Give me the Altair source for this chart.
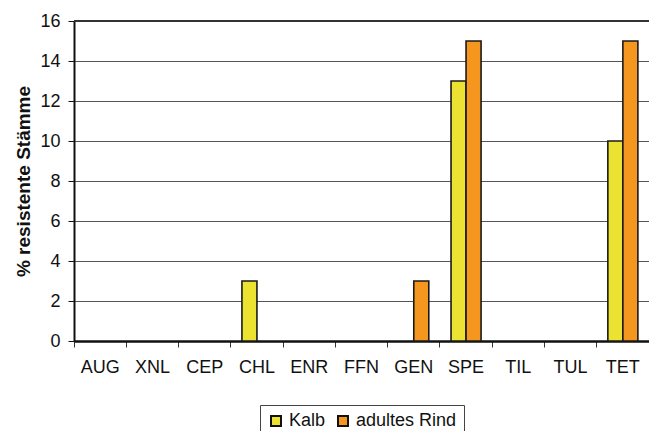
import altair as alt
import pandas as pd

antibiotics = ["AUG", "XNL", "CEP", "CHL", "ENR", "FFN", "GEN", "SPE", "TIL", "TUL", "TET"]
kalb = [0, 0, 0, 3, 0, 0, 0, 13, 0, 0, 10]
adultes_rind = [0, 0, 0, 0, 0, 0, 3, 15, 0, 0, 15]
groups = ["Kalb", "adultes Rind"]
colors = ["#EBE232", "#F5961E"]
y_ticks = [0, 2, 4, 6, 8, 10, 12, 14, 16]

rows = []
for i, ab in enumerate(antibiotics):
    rows.append({"Antibiotikum": ab, "Gruppe": groups[0], "Wert": kalb[i]})
    rows.append({"Antibiotikum": ab, "Gruppe": groups[1], "Wert": adultes_rind[i]})
df = pd.DataFrame(rows)

font = "Liberation Sans"

x_scale = alt.Scale(domain=antibiotics, paddingInner=0, paddingOuter=0)
y_scale = alt.Scale(domain=[0, 16], nice=False)

y_axis = alt.Axis(title="% resistente Stämme", values=y_ticks, labelOverlap=False,
                  titleFontSize=19, titleFont=font, titleFontWeight="bold",
                  titleColor="#111", titlePadding=6,
                  labelFontSize=18, labelFont=font, labelColor="#111",
                  labelPadding=8, tickSize=6, tickColor="#111",
                  domainColor="#111", domainWidth=2,
                  grid=True, gridColor="#555", gridWidth=1)

bars = alt.Chart(df).transform_filter("datum.Wert > 0").mark_bar(
    stroke="#1a1a1a", strokeWidth=1.6
).encode(
    x=alt.X("Antibiotikum:N", scale=x_scale, sort=antibiotics,
            axis=alt.Axis(title=None, orient="bottom", bandPosition=0,
                          tickSize=6, tickColor="#333", tickWidth=1,
                          domainColor="#111", domainWidth=2.5, labelAngle=0,
                          labelFontSize=18, labelColor="#111", labelFont=font,
                          labelPadding=11, labelBaseline="top")),
    xOffset=alt.XOffset("Gruppe:N", sort=groups,
                        scale=alt.Scale(domain=groups, paddingInner=0, paddingOuter=0.74)),
    y=alt.Y("Wert:Q", scale=y_scale, axis=y_axis),
    color=alt.Color("Gruppe:N", sort=groups,
                    scale=alt.Scale(domain=groups, range=colors),
                    legend=alt.Legend(title=None, orient="none", direction="horizontal",
                                      legendX=186, legendY=384,
                                      symbolType="square", symbolSize=100,
                                      symbolStrokeColor="#111", symbolStrokeWidth=2,
                                      labelFontSize=18, labelFont=font, labelColor="#111",
                                      labelOffset=4, columnPadding=8,
                                      strokeColor="#444", padding=7, fillColor="white")),
)

# dark frame line along the top of the plot area
top_line = alt.Chart(pd.DataFrame({"Wert": [16]})).mark_rule(color="#333", strokeWidth=2).encode(
    y=alt.Y("Wert:Q", scale=y_scale, axis=y_axis)
)

chart = alt.layer(bars, top_line).properties(
    width=575, height=320,
    autosize=alt.AutoSizeParams(type="none"),
    padding={"left": 74, "top": 21, "right": 0, "bottom": 90},
    background="white",
).configure_view(stroke=None)

chart.save("out.html", embed_options={"renderer": "svg", "actions": False})
